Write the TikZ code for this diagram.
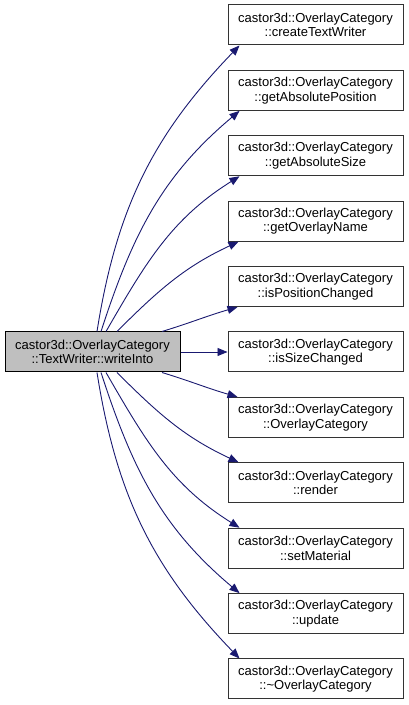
\documentclass[tikz,border=0pt]{standalone}
\usepackage{fontspec}
\setmainfont{Liberation Sans}
\usetikzlibrary{arrows.meta}
\definecolor{edgeblue}{HTML}{191970}
\definecolor{srcgray}{HTML}{BFBFBF}

\begin{document}
\begin{tikzpicture}[
  x=1pt,y=1pt,
  box/.style={draw=black!80, line width=1pt, fill=white, minimum width=175pt, minimum height=40pt, inner sep=0pt, align=center, font=\fontsize{13}{14.5}\selectfont},
  call/.style={-{Triangle[length=10pt,width=8pt]}, draw=edgeblue, line width=0.9pt}
]
\useasboundingbox (0,0) rectangle (408,705);

% caller
\node[box, fill=srcgray, draw=black] (src) at (92.5,353) {castor3d::OverlayCategory\\::TextWriter::writeInto};

% callees
\node[box] (f1) at (315.5,680) {castor3d::OverlayCategory\\::createTextWriter};
\node[box] (f2) at (315.5,614.6) {castor3d::OverlayCategory\\::getAbsolutePosition};
\node[box] (f3) at (315.5,549.2) {castor3d::OverlayCategory\\::getAbsoluteSize};
\node[box] (f4) at (315.5,483.8) {castor3d::OverlayCategory\\::getOverlayName};
\node[box] (f5) at (315.5,418.4) {castor3d::OverlayCategory\\::isPositionChanged};
\node[box] (f6) at (315.5,353) {castor3d::OverlayCategory\\::isSizeChanged};
\node[box] (f7) at (315.5,287.6) {castor3d::OverlayCategory\\::OverlayCategory};
\node[box] (f8) at (315.5,222.2) {castor3d::OverlayCategory\\::render};
\node[box] (f9) at (315.5,156.8) {castor3d::OverlayCategory\\::setMaterial};
\node[box] (f10) at (315.5,91.4) {castor3d::OverlayCategory\\::update};
\node[box] (f11) at (315.5,26) {castor3d::OverlayCategory\\::\textasciitilde OverlayCategory};

% upper calls
\draw[call] ([xshift=4.5]src.north) to[out=81,in=226] ([xshift=12]f1.south west);
\draw[call] ([xshift=8.5]src.north) to[out=72,in=220] ([xshift=12]f2.south west);
\draw[call] ([xshift=13.5]src.north) to[out=60,in=212] ([xshift=12]f3.south west);
\draw[call] ([xshift=24.5]src.north) to[out=45,in=205] ([xshift=11]f4.south west);
\draw[call] ([xshift=69.5]src.north) to[out=17,in=196] ([xshift=10]f5.south west);

% straight call
\draw[call] (src.east) -- (f6.west);

% lower calls
\draw[call] ([xshift=69.5]src.south) to[out=-17,in=164] ([xshift=10]f7.north west);
\draw[call] ([xshift=24.5]src.south) to[out=-45,in=155] ([xshift=11]f8.north west);
\draw[call] ([xshift=13.5]src.south) to[out=-60,in=148] ([xshift=12]f9.north west);
\draw[call] ([xshift=8.5]src.south) to[out=-72,in=140] ([xshift=12]f10.north west);
\draw[call] ([xshift=4.5]src.south) to[out=-81,in=134] ([xshift=12]f11.north west);

\end{tikzpicture}
\end{document}
